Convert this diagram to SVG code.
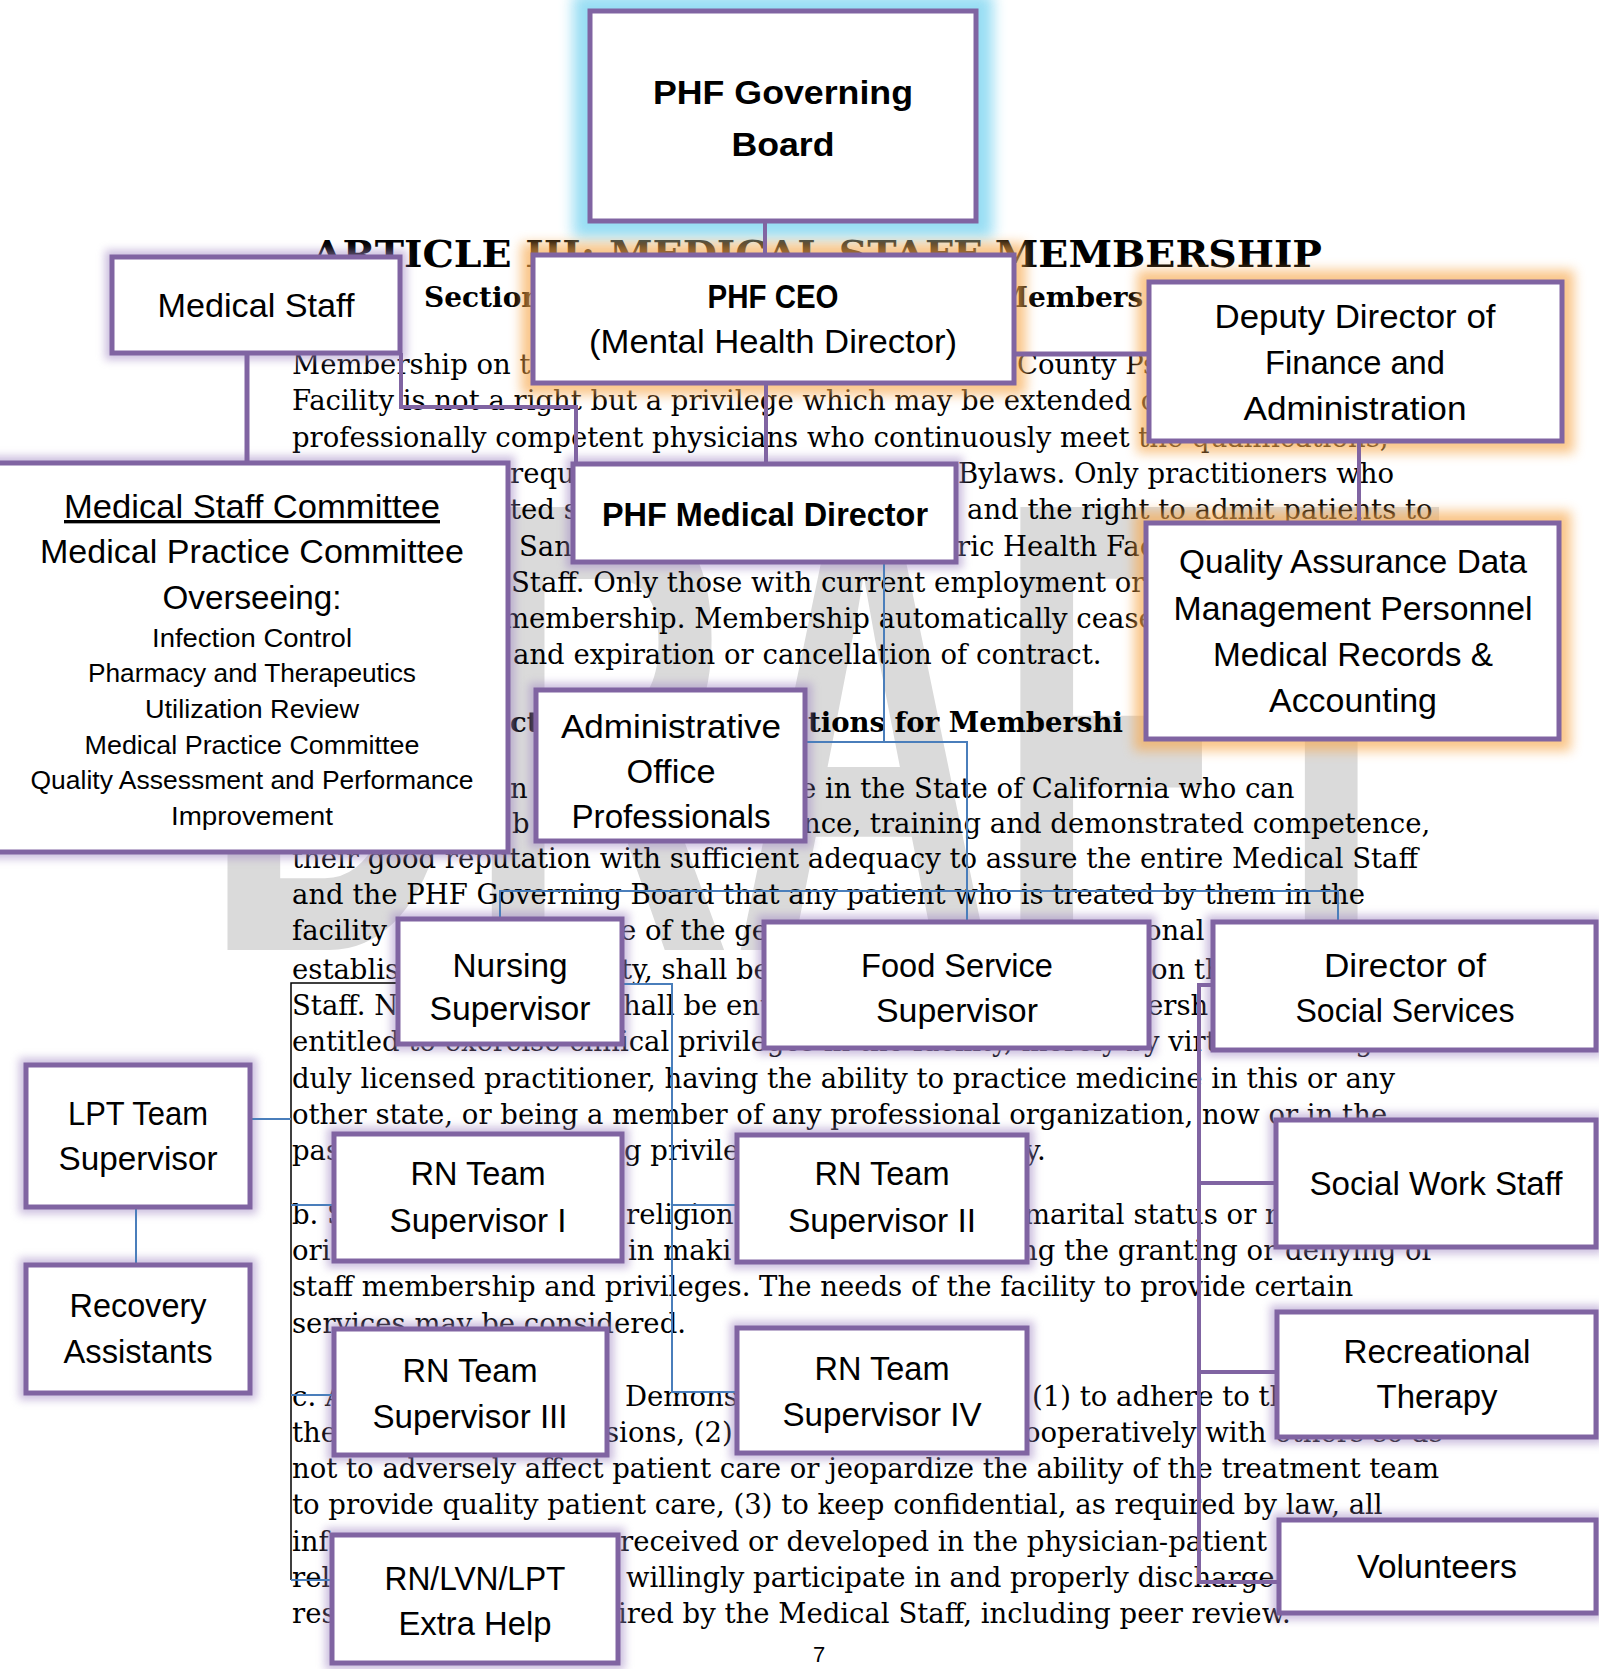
<svg xmlns="http://www.w3.org/2000/svg" width="1599" height="1669" viewBox="0 0 1599 1669">
<defs>
<filter id="blur4" filterUnits="userSpaceOnUse" x="-200" y="-200" width="2000" height="2100"><feGaussianBlur stdDeviation="4"/></filter>
<filter id="blur6" filterUnits="userSpaceOnUse" x="-200" y="-200" width="2000" height="2100"><feGaussianBlur stdDeviation="6"/></filter>
<filter id="blur7" filterUnits="userSpaceOnUse" x="-200" y="-200" width="2000" height="2100"><feGaussianBlur stdDeviation="7"/></filter>
</defs>
<style>
.box{fill:#fff;stroke:#8064A2;stroke-width:5}
.gp{fill:none;stroke:#a38bc5;stroke-width:14;opacity:.55;filter:url(#blur4)}
.go{fill:none;stroke:#f7a74c;stroke-width:24;opacity:.65;filter:url(#blur6)}
.gc{fill:none;stroke:#7fd5f1;stroke-width:34;opacity:.8;filter:url(#blur7)}
.t{font-family:"Liberation Sans",Arial,sans-serif;font-size:33.5px;text-anchor:middle;fill:#000}
.b{font-weight:bold}
.s{font-size:26.4px}
.doc{font-family:"DejaVu Serif",serif;font-size:27.5px;fill:#000}
.hd{font-family:"DejaVu Serif",serif;font-weight:bold;fill:#000}
.cp{fill:none;stroke:#8064A2;stroke-width:4}
.cpw{fill:none;stroke:#8064A2;stroke-width:5}
.cb{fill:none;stroke:#4A7EBB;stroke-width:2}
.ck{fill:none;stroke:#000;stroke-width:1.5}
</style>
<rect x="0" y="0" width="1599" height="1669" fill="#fff"/>
<g id="watermark">
<text x="203" y="950" font-family="Liberation Sans, Arial, sans-serif" font-weight="bold" font-size="644" fill="#dadada" textLength="1240" lengthAdjust="spacingAndGlyphs">DRAFT</text>
</g>
<g id="document">
<text class="hd" x="312" y="267" font-size="37" textLength="1010" lengthAdjust="spacingAndGlyphs">ARTICLE III: MEDICAL STAFF MEMBERSHIP</text>
<text class="hd" x="424" y="307" font-size="28">Section</text>
<text class="hd" x="997" y="307" font-size="28">Members</text>
<g class="doc">
<text x="292" y="374">Membership on t</text>
<text x="1017" y="374">County Ps</text>
<text x="292" y="410">Facility is not a right but a privilege which may be extended o</text>
<text x="292" y="447">professionally competent physicians who continuously meet the qualifications,</text>
<text x="510" y="483">requ</text>
<text x="958" y="483">Bylaws. Only practitioners who</text>
<text x="510" y="519">ted s</text>
<text x="967" y="519">and the right to admit patients to</text>
<text x="519" y="556">San</text>
<text x="957" y="556">ric Health Fac</text>
<text x="511" y="592">Staff. Only those with current employment or</text>
<text x="503" y="628">membership. Membership automatically cease</text>
<text x="513" y="664">and expiration or cancellation of contract.</text>
<text x="510" y="732" font-weight="bold">ct</text>
<text x="808" y="732" font-weight="bold">tions for Membershi</text>
<text x="510" y="798">n</text>
<text x="800" y="798">e in the State of California who can</text>
<text x="512" y="833">b</text>
<text x="803" y="833">nce, training and demonstrated competence,</text>
<text x="292" y="868">their good reputation with sufficient adequacy to assure the entire Medical Staff</text>
<text x="292" y="904">and the PHF Governing Board that any patient who is treated by them in the</text>
<text x="292" y="940">facility</text>
<text x="620" y="940">e of the ge</text>
<text x="1145" y="940">onal</text>
<text x="292" y="979">establis</text>
<text x="621" y="979">ty, shall be</text>
<text x="1151" y="979">on th</text>
<text x="292" y="1015">Staff. N</text>
<text x="623" y="1015">hall be enti</text>
<text x="1147" y="1015">ersh</text>
<text x="292" y="1051">entitled to exercise clinical privileges in the facility, merely by virtue of being a</text>
<text x="292" y="1088">duly licensed practitioner, having the ability to practice medicine in this or any</text>
<text x="292" y="1124">other state, or being a member of any professional organization, now or in the</text>
<text x="292" y="1160">pas</text>
<text x="624" y="1160">g privile</text>
<text x="1025" y="1160">y.</text>
<text x="292" y="1224">b. S</text>
<text x="626" y="1224">religion</text>
<text x="1024" y="1224">marital status or n</text>
<text x="292" y="1260">ori</text>
<text x="628" y="1260">in maki</text>
<text x="1020" y="1260">ng the granting or denying of</text>
<text x="292" y="1296">staff membership and privileges. The needs of the facility to provide certain</text>
<text x="292" y="1333">services may be considered.</text>
<text x="292" y="1406">c. A</text>
<text x="625" y="1406">Demons</text>
<text x="1032" y="1406">(1) to adhere to th</text>
<text x="292" y="1442">the</text>
<text x="605" y="1442">sions, (2)</text>
<text x="1024" y="1442">ooperatively with others so as</text>
<text x="292" y="1478">not to adversely affect patient care or jeopardize the ability of the treatment team</text>
<text x="292" y="1514">to provide quality patient care, (3) to keep confidential, as required by law, all</text>
<text x="292" y="1551">inf</text>
<text x="620" y="1551">received or developed in the physician-patient</text>
<text x="292" y="1587">rel</text>
<text x="626" y="1587">willingly participate in and properly discharge</text>
<text x="292" y="1623">res</text>
<text x="618" y="1623">ired by the Medical Staff, including peer review.</text>
</g>
<text x="813" y="1662" font-family="Liberation Sans, Arial, sans-serif" font-size="22" fill="#000">7</text>
</g>
<g id="glows">
<rect class="gc" x="590" y="11" width="386" height="210"/>
<rect class="go" x="533" y="255" width="481" height="128"/>
<rect class="gp" x="112" y="257" width="288" height="96"/>
<rect class="go" x="1149" y="282" width="413" height="159"/>
<rect class="gp" x="-8" y="463" width="516" height="389"/>
<rect class="gp" x="573" y="464" width="383" height="98"/>
<rect class="go" x="1146" y="523" width="413" height="216"/>
<rect class="gp" x="536" y="690" width="269" height="151"/>
<rect class="gp" x="398" y="919" width="224" height="125"/>
<rect class="gp" x="764" y="922" width="385" height="126"/>
<rect class="gp" x="1213" y="922" width="383" height="128"/>
<rect class="gp" x="26" y="1065" width="224" height="142"/>
<rect class="gp" x="26" y="1265" width="224" height="128"/>
<rect class="gp" x="334" y="1134" width="288" height="127"/>
<rect class="gp" x="737" y="1135" width="290" height="127"/>
<rect class="gp" x="1276" y="1120" width="320" height="127"/>
<rect class="gp" x="334" y="1329" width="273" height="126"/>
<rect class="gp" x="737" y="1328" width="290" height="125"/>
<rect class="gp" x="1277" y="1312" width="319" height="125"/>
<rect class="gp" x="332" y="1535" width="286" height="128"/>
<rect class="gp" x="1279" y="1520" width="317" height="93"/>
</g>
<g id="connectors">
<path class="cp" d="M765,221 V255"/>
<path class="cp" d="M766,383 V464"/>
<path class="cpw" d="M247,353 V463"/>
<path class="cp" d="M401,353 V407 H576 V464"/>
<path class="cpw" d="M1014,354 H1149"/>
<path class="cp" d="M1359,441 V523"/>
<path class="cp" d="M1213,985 H1199 V1582 H1279 M1199,1183 H1276 M1199,1372 H1277"/>
<path class="cb" d="M884,562 V742 H805"/>
<path class="cb" d="M884,742 H967 V922"/>
<path class="cb" d="M500,919 V891 H1338 V922"/>
<path class="cb" d="M622,984 H672 V1392 H737 M672,1205 H737"/>
<path class="ck" d="M398,983 H291 V1580"/>
<path class="cb" d="M250,1119 H291 M291,1205 H334 M291,1395 H334 M291,1580 H332"/>
<path class="cb" d="M136,1207 V1265"/>
</g>
<g id="n-gov">
<rect class="box" x="590" y="11" width="386" height="210"/>
<text class="t b" x="783" y="104" font-size="38" textLength="260" lengthAdjust="spacingAndGlyphs">PHF Governing</text>
<text class="t b" x="783" y="156" font-size="38" textLength="103" lengthAdjust="spacingAndGlyphs">Board</text>
</g>
<g id="n-ceo">
<rect class="box" x="533" y="255" width="481" height="128"/>
<text class="t b" x="773" y="308" textLength="131" lengthAdjust="spacingAndGlyphs">PHF CEO</text>
<text class="t" x="773" y="353" textLength="368" lengthAdjust="spacingAndGlyphs">(Mental Health Director)</text>
</g>
<g id="n-medstaff">
<rect class="box" x="112" y="257" width="288" height="96"/>
<text class="t" x="256" y="317" textLength="197" lengthAdjust="spacingAndGlyphs">Medical Staff</text>
</g>
<g id="n-deputy">
<rect class="box" x="1149" y="282" width="413" height="159"/>
<text class="t" x="1355" y="328" textLength="281" lengthAdjust="spacingAndGlyphs">Deputy Director of</text>
<text class="t" x="1355" y="374" textLength="180" lengthAdjust="spacingAndGlyphs">Finance and</text>
<text class="t" x="1355" y="420" textLength="223" lengthAdjust="spacingAndGlyphs">Administration</text>
</g>
<g id="n-committee">
<rect class="box" x="-8" y="463" width="516" height="389"/>
<text class="t" x="252" y="518" textLength="376" lengthAdjust="spacingAndGlyphs" text-decoration="underline">Medical Staff Committee</text>
<text class="t" x="252" y="563" textLength="424" lengthAdjust="spacingAndGlyphs">Medical Practice Committee</text>
<text class="t" x="252" y="609" textLength="179" lengthAdjust="spacingAndGlyphs">Overseeing:</text>
<text class="t s" x="252" y="647" textLength="200" lengthAdjust="spacingAndGlyphs">Infection Control</text>
<text class="t s" x="252" y="682" textLength="328" lengthAdjust="spacingAndGlyphs">Pharmacy and Therapeutics</text>
<text class="t s" x="252" y="718" textLength="214" lengthAdjust="spacingAndGlyphs">Utilization Review</text>
<text class="t s" x="252" y="754" textLength="335" lengthAdjust="spacingAndGlyphs">Medical Practice Committee</text>
<text class="t s" x="252" y="789" textLength="443" lengthAdjust="spacingAndGlyphs">Quality Assessment and Performance</text>
<text class="t s" x="252" y="825" textLength="162" lengthAdjust="spacingAndGlyphs">Improvement</text>
</g>
<g id="n-meddir">
<rect class="box" x="573" y="464" width="383" height="98"/>
<text class="t b" x="765" y="526" textLength="326" lengthAdjust="spacingAndGlyphs">PHF Medical Director</text>
</g>
<g id="n-qa">
<rect class="box" x="1146" y="523" width="413" height="216"/>
<text class="t" x="1353" y="573" textLength="348" lengthAdjust="spacingAndGlyphs">Quality Assurance Data</text>
<text class="t" x="1353" y="620" textLength="359" lengthAdjust="spacingAndGlyphs">Management Personnel</text>
<text class="t" x="1353" y="666" textLength="280" lengthAdjust="spacingAndGlyphs">Medical Records &amp;</text>
<text class="t" x="1353" y="712" textLength="168" lengthAdjust="spacingAndGlyphs">Accounting</text>
</g>
<g id="n-admin">
<rect class="box" x="536" y="690" width="269" height="151"/>
<text class="t" x="671" y="738" textLength="220" lengthAdjust="spacingAndGlyphs">Administrative</text>
<text class="t" x="671" y="783" textLength="89" lengthAdjust="spacingAndGlyphs">Office</text>
<text class="t" x="671" y="828" textLength="199" lengthAdjust="spacingAndGlyphs">Professionals</text>
</g>
<g id="n-nursing">
<rect class="box" x="398" y="919" width="224" height="125"/>
<text class="t" x="510" y="977" textLength="115" lengthAdjust="spacingAndGlyphs">Nursing</text>
<text class="t" x="510" y="1020" textLength="161" lengthAdjust="spacingAndGlyphs">Supervisor</text>
</g>
<g id="n-food">
<rect class="box" x="764" y="922" width="385" height="126"/>
<text class="t" x="957" y="977" textLength="192" lengthAdjust="spacingAndGlyphs">Food Service</text>
<text class="t" x="957" y="1022" textLength="162" lengthAdjust="spacingAndGlyphs">Supervisor</text>
</g>
<g id="n-socdir">
<rect class="box" x="1213" y="922" width="383" height="128"/>
<text class="t" x="1405" y="977" textLength="162" lengthAdjust="spacingAndGlyphs">Director of</text>
<text class="t" x="1405" y="1022" textLength="219" lengthAdjust="spacingAndGlyphs">Social Services</text>
</g>
<g id="n-lpt">
<rect class="box" x="26" y="1065" width="224" height="142"/>
<text class="t" x="138" y="1125" textLength="140" lengthAdjust="spacingAndGlyphs">LPT Team</text>
<text class="t" x="138" y="1170" textLength="159" lengthAdjust="spacingAndGlyphs">Supervisor</text>
</g>
<g id="n-recovery">
<rect class="box" x="26" y="1265" width="224" height="128"/>
<text class="t" x="138" y="1317" textLength="137" lengthAdjust="spacingAndGlyphs">Recovery</text>
<text class="t" x="138" y="1363" textLength="149" lengthAdjust="spacingAndGlyphs">Assistants</text>
</g>
<g id="n-rn1">
<rect class="box" x="334" y="1134" width="288" height="127"/>
<text class="t" x="478" y="1185" textLength="135" lengthAdjust="spacingAndGlyphs">RN Team</text>
<text class="t" x="478" y="1232" textLength="177" lengthAdjust="spacingAndGlyphs">Supervisor I</text>
</g>
<g id="n-rn2">
<rect class="box" x="737" y="1135" width="290" height="127"/>
<text class="t" x="882" y="1185" textLength="135" lengthAdjust="spacingAndGlyphs">RN Team</text>
<text class="t" x="882" y="1232" textLength="188" lengthAdjust="spacingAndGlyphs">Supervisor II</text>
</g>
<g id="n-socwork">
<rect class="box" x="1276" y="1120" width="320" height="127"/>
<text class="t" x="1436" y="1195" textLength="253" lengthAdjust="spacingAndGlyphs">Social Work Staff</text>
</g>
<g id="n-rn3">
<rect class="box" x="334" y="1329" width="273" height="126"/>
<text class="t" x="470" y="1382" textLength="135" lengthAdjust="spacingAndGlyphs">RN Team</text>
<text class="t" x="470" y="1428" textLength="195" lengthAdjust="spacingAndGlyphs">Supervisor III</text>
</g>
<g id="n-rn4">
<rect class="box" x="737" y="1328" width="290" height="125"/>
<text class="t" x="882" y="1380" textLength="135" lengthAdjust="spacingAndGlyphs">RN Team</text>
<text class="t" x="882" y="1426" textLength="199" lengthAdjust="spacingAndGlyphs">Supervisor IV</text>
</g>
<g id="n-rec">
<rect class="box" x="1277" y="1312" width="319" height="125"/>
<text class="t" x="1437" y="1363" textLength="187" lengthAdjust="spacingAndGlyphs">Recreational</text>
<text class="t" x="1437" y="1408" textLength="121" lengthAdjust="spacingAndGlyphs">Therapy</text>
</g>
<g id="n-extra">
<rect class="box" x="332" y="1535" width="286" height="128"/>
<text class="t" x="475" y="1590" textLength="181" lengthAdjust="spacingAndGlyphs">RN/LVN/LPT</text>
<text class="t" x="475" y="1635" textLength="153" lengthAdjust="spacingAndGlyphs">Extra Help</text>
</g>
<g id="n-vol">
<rect class="box" x="1279" y="1520" width="317" height="93"/>
<text class="t" x="1437" y="1578" textLength="160" lengthAdjust="spacingAndGlyphs">Volunteers</text>
</g>
</svg>
